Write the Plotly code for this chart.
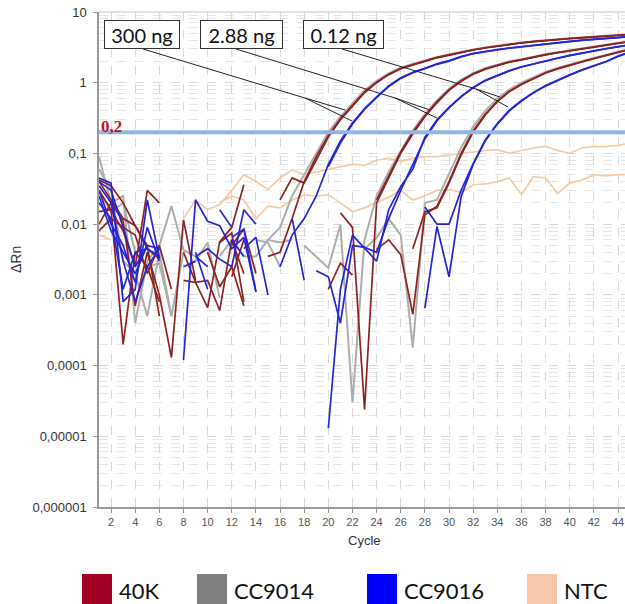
import plotly.graph_objects as go

N = None
cycles = list(range(1, 46))

# ---- 40K (dark red) ----
k300a = [0.04, 0.022, 0.012, 0.0095, 0.0045,
         0.0032, N, 0.0016, 0.0015, 0.00066,
         0.0056, 0.009, 0.036, N, N,
         0.022, 0.045, 0.038, 0.08, 0.17,
         0.3, 0.46, 0.72, 1.0, 1.3,
         1.58, 1.8, 2.0, 2.25, 2.45,
         2.7, 2.9, 3.1, 3.3, 3.48,
         3.65, 3.8, 3.95, 4.05, 4.2,
         4.3, 4.45, 4.55, 4.7, 4.8]
k300b = [0.015, 0.016, 0.0002, 0.004, 0.0025,
         0.0008, N, 0.004, 0.0015, 0.0016,
         0.0006, 0.006, 0.002, N, 0.0035,
         0.004, 0.012, 0.04, 0.09, 0.18,
         0.31, 0.48, 0.74, 1.02, 1.32,
         1.6, 1.82, 2.03, 2.28, 2.48,
         2.72, 2.92, 3.12, 3.32, 3.5,
         3.67, 3.82, 3.97, 4.08, 4.22,
         4.33, 4.47, 4.58, 4.72, 4.82]
k2a = [0.03, 0.016, 0.008, 0.0025, 0.03,
       0.02, N, 0.0045, N, N,
       0.0055, 0.0075, 0.0008, N, N,
       N, N, N, N, N,
       0.0145, 0.009, 0.000024, 0.02, 0.045,
       0.1, 0.19, 0.33, 0.52, 0.78,
       1.05, 1.32, 1.55, 1.75, 1.95,
       2.1, 2.3, 2.48, 2.65, 2.82,
       3.0, 3.2, 3.4, 3.6, 3.8]
k2b = [0.01, 0.02, 0.011, 0.0007, 0.004,
       0.001, 0.00013, 0.0115, 0.0016, N,
       N, 0.0018, 0.006, N, N,
       N, N, N, N, 0.0012,
       0.0028, 0.0019, N, 0.022, 0.048,
       0.105, 0.2, 0.34, 0.54, 0.8,
       1.07, 1.34, 1.57, 1.77, 1.97,
       2.12, 2.32, 2.5, 2.67, 2.85,
       3.03, 3.23, 3.43, 3.63, 3.83]
k012a = [0.042, 0.035, 0.02, 0.0095, 0.005,
         0.0005, N, N, N, 0.004,
         0.0013, 0.0025, 0.0007, N, N,
         N, N, N, N, N,
         N, N, N, 0.0044, 0.006,
         0.0037, 0.00053, 0.0136, 0.018, 0.04,
         0.1, 0.21, 0.36, 0.55, 0.76,
         0.95, 1.15, 1.38, 1.58, 1.78,
         1.98, 2.2, 2.45, 2.7, 2.95]
k012b = [0.008, 0.012, 0.009, 0.007, 0.002,
         0.005, 0.0012, N, N, N,
         N, 0.005, 0.0085, 0.002, N,
         N, N, N, N, N,
         N, N, N, N, N,
         N, 0.0045, 0.015, 0.017, 0.038,
         0.095, 0.2, 0.35, 0.54, 0.75,
         0.94, 1.14, 1.37, 1.57, 1.77,
         1.97, 2.19, 2.44, 2.69, 2.94]

# ---- CC9014 (grey) ----
g300 = [0.09, 0.02, 0.025, 0.0004, 0.003,
        0.005, 0.018, 0.0043, 0.0035, N,
        0.0035, 0.006, 0.0035, N, 0.006,
        0.009, 0.025, 0.05, 0.1, 0.2,
        0.33, 0.5, 0.78, 1.06, 1.36,
        1.63, 1.86, 2.06, 2.3, 2.5,
        2.75, 2.95, 3.15, 3.35, 3.52,
        3.7, 3.85, 4.0, 4.1, 4.25,
        4.36, 4.5, 4.6, 4.75, 4.85]
g2 = [0.03, 0.015, 0.02, 0.004, 0.0025,
      0.0028, 0.0005, N, 0.003, 0.0055,
      0.0009, N, N, 0.006, 0.0055,
      0.0025, N, 0.005, 0.0035, 0.0024,
      0.0098, 0.00003, 0.006, 0.025, 0.055,
      0.11, 0.21, 0.36, 0.56, 0.82,
      1.1, 1.37, 1.6, 1.8, 2.0,
      2.15, 2.35, 2.53, 2.7, 2.88,
      3.06, 3.26, 3.46, 3.66, 3.86]
g012 = [0.06, 0.03, 0.003, 0.002, 0.0005,
        0.004, 0.0005, 0.004, N, N,
        0.0009, N, 0.0035, 0.0035, 0.006,
        0.0055, 0.006, N, N, N,
        N, N, 0.0045, 0.0064, 0.012,
        0.007, 0.00018, 0.02, 0.022, 0.05,
        0.12, 0.24, 0.4, 0.6, 0.8,
        1.0, 1.2, 1.42, 1.62, 1.82,
        2.02, 2.24, 2.49, 2.74, 2.99]

# ---- CC9016 (blue) ----
b300a = [0.045, 0.038, 0.0008, 0.0012, 0.022,
         0.0033, N, 0.0025, 0.003, N,
         0.016, 0.009, N, N, N,
         0.0025, 0.007, 0.012, 0.025, 0.07,
         0.15, 0.27, 0.43, 0.63, 0.9,
         1.18, 1.4, 1.6, 1.85, 2.05,
         2.35, 2.6, 2.8, 2.95, 3.1,
         3.25, 3.4, 3.55, 3.7, 3.85,
         4.0, 4.1, 4.25, 4.4, 4.5]
b300b = [0.03, 0.01, 0.005, 0.0015, 0.009,
         0.003, N, 0.00012, 0.022, 0.011,
         0.0095, 0.0045, 0.0065, 0.0011, N,
         N, 0.012, 0.0016, N, 0.065,
         0.14, 0.26, 0.42, 0.62, 0.88,
         1.15, 1.38, 1.58, 1.82, 2.02,
         2.32, 2.57, 2.77, 2.92, 3.08,
         3.23, 3.38, 3.52, 3.68, 3.82,
         3.97, 4.08, 4.22, 4.37, 4.47]
b2a = [0.04, 0.03, 0.009, 0.0025, 0.005,
       N, N, N, 0.0035, 0.0025,
       N, 0.006, 0.0035, N, N,
       N, N, N, N, 0.000013,
       0.0012, 0.007, 0.0045, 0.003, 0.016,
       0.034, 0.06, 0.17, 0.3, 0.45,
       0.64, 0.86, 1.08, 1.28, 1.48,
       1.68, 1.86, 2.03, 2.23, 2.43,
       2.63, 2.83, 3.03, 3.23, 3.43]
b2b = [0.02, 0.012, 0.0012, 0.004, 0.0045,
       0.0035, N, N, 0.004, 0.0012,
       N, N, 0.0045, 0.0065, 0.001,
       N, N, N, 0.0022, 0.0018,
       0.0004, 0.005, 0.0047, 0.004, 0.012,
       0.03, 0.07, 0.16, 0.29, 0.44,
       0.63, 0.85, 1.07, 1.27, 1.47,
       1.67, 1.85, 2.02, 2.22, 2.42,
       2.62, 2.82, 3.02, 3.22, 3.42]
b012a = [0.035, 0.02, 0.003, 0.0008, 0.0025,
         0.0045, N, N, 0.0035, 0.0045,
         0.0032, 0.0025, 0.016, 0.01, N,
         N, N, N, N, N,
         N, N, N, N, N,
         N, N, 0.00065, 0.0093, 0.0018,
         0.0245, 0.07, 0.15, 0.26, 0.4,
         0.55, 0.72, 0.9, 1.08, 1.28,
         1.5, 1.72, 1.98, 2.35, 2.7]
b012b = [0.025, 0.008, 0.004, 0.002, 0.005,
         0.0045, N, N, N, N,
         N, 0.0065, 0.0085, 0.0011, N,
         N, N, N, N, N,
         N, N, N, N, N,
         N, N, 0.0175, 0.01, 0.01,
         0.03, 0.072, 0.155, 0.265, 0.41,
         0.56, 0.73, 0.91, 1.1, 1.3,
         1.52, 1.74, 2.0, 2.38, 2.72]

# ---- NTC (peach) ----
ntc1 = [N, N, N, N, N,
        N, N, 0.012, 0.022, 0.016,
        0.019, 0.03, 0.05, 0.04, 0.031,
        0.045, 0.059, 0.05, 0.055, 0.06,
        0.065, 0.07, 0.068, 0.08, 0.085,
        0.078, 0.085, 0.09, 0.09, 0.095,
        0.1, 0.105, 0.11, 0.113, 0.1,
        0.11, 0.12, 0.126, 0.11, 0.1,
        0.12, 0.125, 0.125, 0.13, 0.14]
ntc2 = [0.007, 0.006, N, N, N,
        N, N, N, N, N,
        0.02, 0.025, 0.022, 0.012, 0.018,
        0.017, 0.022, 0.026, 0.025, 0.026,
        0.02, 0.015, 0.017, 0.02, 0.024,
        0.03, 0.022, 0.025, 0.03, 0.031,
        0.028, 0.036, 0.037, 0.04, 0.045,
        0.026, 0.047, 0.045, 0.027, 0.038,
        0.042, 0.05, 0.048, 0.05, 0.05]

threshold = 0.2
threshold_label = "0,2"
y_tickvals = [1e-6, 1e-5, 1e-4, 1e-3, 1e-2, 1e-1, 1, 10]
y_ticktext = ["0,000001", "0,00001", "0,0001", "0,001", "0,01", "0,1", "1", "10"]
x_tickvals = list(range(2, 45, 2))
dilution_labels = ["300 ng", "2.88 ng", "0.12 ng"]
legend_names = ["40K", "CC9014", "CC9016", "NTC"]
legend_colors = ["#a00024", "#808080", "#0000ff", "#f5c7a8"]

line_colors = {"40K": "#8e2222", "CC9014": "#adadad", "CC9016": "#2525d6", "NTC": "#f6caa4"}

series = [
    ("NTC", ntc1), ("NTC", ntc2),
    ("CC9014", g300), ("CC9014", g2), ("CC9014", g012),
    ("40K", k300a), ("40K", k300b), ("40K", k2a), ("40K", k2b), ("40K", k012a), ("40K", k012b),
    ("CC9016", b300a), ("CC9016", b300b), ("CC9016", b2a), ("CC9016", b2b), ("CC9016", b012a), ("CC9016", b012b),
]

fig = go.Figure()
for name, vals in series:
    fig.add_trace(go.Scatter(x=cycles, y=vals, mode="lines", showlegend=False,
                             line=dict(color=line_colors[name], width=1.7 if name != "CC9014" else 2.0),
                             connectgaps=False, hoverinfo="skip"))

fig.add_trace(go.Scatter(x=[cycles[0], cycles[-1]], y=[threshold, threshold], mode="lines",
                         showlegend=False, line=dict(color="#8cb7e6", width=4), hoverinfo="skip"))

W, H = 625, 604
L, R, T, B = 99, 0, 12, 97
PW, PH = W - L - R, H - T - B


def px(x, y):
    return (x - L) / PW, (H - B - y) / PH


shapes = []
shapes.append(dict(type="line", xref="paper", yref="paper", x0=0, x1=1, y0=1, y1=1,
                   line=dict(color="#c8c8c8", width=1)))

connectors = [
    ((143, 49), (305, 98), [(345, 110), (352, 121)]),
    ((236, 49), (395, 98), [(430, 110), (437, 118)]),
    ((342, 49), (476, 89), [(500, 97), (508, 107)]),
]
for start, split, ends in connectors:
    x0, y0 = px(*start)
    x1, y1 = px(*split)
    shapes.append(dict(type="line", xref="paper", yref="paper", x0=x0, y0=y0, x1=x1, y1=y1,
                       line=dict(color="#222222", width=1)))
    for e in ends:
        x2, y2 = px(*e)
        shapes.append(dict(type="line", xref="paper", yref="paper", x0=x1, y0=y1, x1=x2, y1=y2,
                           line=dict(color="#222222", width=1)))

annotations = []
box_centers = [(142, 34.5), (241.5, 34.5), (343, 34.5)]
box_widths = [74, 81, 79]
for lab, (cx, cy), bw in zip(dilution_labels, box_centers, box_widths):
    ax, ay = px(cx, cy)
    annotations.append(dict(text=lab, xref="paper", yref="paper", x=ax, y=ay, showarrow=False,
                            xanchor="center", yanchor="middle", width=bw, height=27,
                            font=dict(family="Lato", size=20, color="#111111"),
                            bgcolor="white", bordercolor="#333333", borderwidth=1, borderpad=0))

tx, ty = px(99, 126)
annotations.append(dict(text="<b>" + threshold_label + "</b>", xref="paper", yref="paper", x=tx, y=ty,
                        showarrow=False, xanchor="left", yanchor="middle",
                        font=dict(family="Liberation Serif", size=17, color="#c0161c")))

ax_, ay_ = px(16, 260)
annotations.append(dict(text="ΔRn", xref="paper", yref="paper", x=ax_, y=ay_, textangle=-90,
                        showarrow=False, xanchor="center", yanchor="middle",
                        font=dict(family="Liberation Sans", size=14, color="#333333")))
cx_, cy_ = px(364, 540)
annotations.append(dict(text="Cycle", xref="paper", yref="paper", x=cx_, y=cy_,
                        showarrow=False, xanchor="center", yanchor="middle",
                        font=dict(family="Liberation Sans", size=13, color="#333333")))

swatch_x = [82, 197, 367, 527]
for nm, col, sx in zip(legend_names, legend_colors, swatch_x):
    x0, y0 = px(sx, 574)
    x1, y1 = px(sx + 30, 606)
    shapes.append(dict(type="rect", xref="paper", yref="paper", x0=x0, y0=y0, x1=x1, y1=y1,
                       fillcolor=col, line=dict(width=0)))
    lx, ly = px(sx + 35, 590)
    annotations.append(dict(text=nm, xref="paper", yref="paper", x=lx, y=ly, showarrow=False,
                            xanchor="left", yanchor="middle",
                            font=dict(family="Lato", size=22, color="#111111")))

fig.update_layout(
    width=W, height=H, autosize=False,
    margin=dict(l=L, r=R, t=T, b=B),
    paper_bgcolor="white", plot_bgcolor="white",
    showlegend=False,
    shapes=shapes, annotations=annotations,
    xaxis=dict(range=[1, 1 + PW / 12.07], tickvals=x_tickvals, ticks="outside", ticklen=4,
               tickcolor="#999999", showline=True, linecolor="#999999", linewidth=1.5,
               showgrid=True, gridcolor="#d9d9d9", griddash="dash", gridwidth=1,
               zeroline=False, tickfont=dict(family="Liberation Sans", size=11, color="#555555")),
    yaxis=dict(type="log", range=[-6, 1], tickvals=y_tickvals, ticktext=y_ticktext,
               ticks="outside", ticklen=4, tickcolor="#999999",
               showline=True, linecolor="#999999", linewidth=1.5,
               showgrid=True, gridcolor="#d9d9d9", griddash="dash", gridwidth=1,
               minor=dict(dtick="D1", showgrid=True, gridcolor="#e6e6e6", griddash="dash", ticks=""),
               zeroline=False, ticklabelstandoff=4,
               tickfont=dict(family="Liberation Sans", size=13, color="#333333")),
)

fig.write_html("out.html")
